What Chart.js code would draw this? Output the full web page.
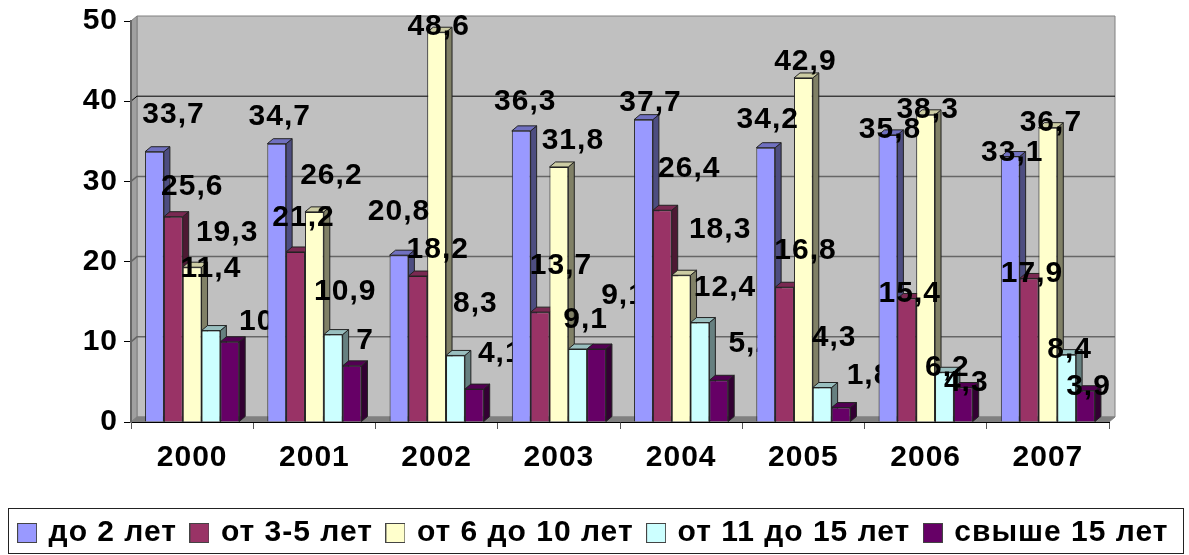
<!DOCTYPE html>
<html>
<head>
<meta charset="utf-8">
<style>
body { margin: 0; background: #fff; }
</style>
<script src="https://cdn.jsdelivr.net/npm/chart.js@4"></script>
</head>
<body>
<canvas id="chart" width="1189" height="555"></canvas>
<script>
const years = ['2000', '2001', '2002', '2003', '2004', '2005', '2006', '2007'];
const seriesNames = ['до 2 лет', 'от 3-5 лет', 'от 6 до 10 лет', 'от 11 до 15 лет', 'свыше 15 лет'];
const upTo2 = [33.7, 34.7, 20.8, 36.3, 37.7, 34.2, 35.8, 33.1];
const from3to5 = [25.6, 21.2, 18.2, 13.7, 26.4, 16.8, 15.4, 17.9];
const from6to10 = [19.3, 26.2, 48.6, 31.8, 18.3, 42.9, 38.3, 36.7];
const from11to15 = [11.4, 10.9, 8.3, 9.1, 12.4, 4.3, 6.2, 8.4];
const over15 = [10, 7, 4.1, 9.1, 5.2, 1.8, 4.3, 3.9];
const seriesValues = [upTo2, from3to5, from6to10, from11to15, over15];
const yTicks = [0, 10, 20, 30, 40, 50];

const frontColors = ['#9999FF', '#993366', '#FFFFCC', '#CCFFFF', '#660066'];
const topColors = ['#7070C0', '#7A2952', '#CCCCA3', '#99BFBF', '#520052'];
const sideColors = ['#4D4D80', '#4D1933', '#808066', '#668080', '#330033'];

// the data labels in the original sit by hand around the bars: [dx, dy] from bar centre / top
const labelOffsets = [
    [[19, -37], [19, -30], [35, -34], [0, -62], [27, -20]],
    [[3, -27], [8, -34], [17, -36], [12, -43], [13, -25]],
    [[0, -43], [20, -26], [2, -5], [20, -52], [26, -35]],
    [[4, -29], [21, -46], [14, -26], [8, -29], [27, -53]],
    [[7, -17], [27, -42], [39, -45], [25, -35], [32, -37]],
    [[2, -28], [21, -37], [2, -16], [12, -50], [28, -32]],
    [[2, -5], [3, -5], [2, -5], [3, -5], [3, -5]],
    [[2, -4], [3, -5], [3, -5], [3, -5], [3, -4]]
];

const depthX = 6;
const depthY = 5;
const fontFamily = '"Liberation Sans", Arial, sans-serif';

const canvas = document.getElementById('chart');

function fillPoly(ctx, points, fill, stroke) {
    ctx.beginPath();
    points.forEach((p, i) => i ? ctx.lineTo(p[0], p[1]) : ctx.moveTo(p[0], p[1]));
    ctx.closePath();
    ctx.fillStyle = fill;
    ctx.fill();
    if (stroke) {
        ctx.strokeStyle = stroke;
        ctx.lineWidth = 1;
        ctx.stroke();
    }
}

// legend swatch, given as a point style so the text can sit closer to it
function swatch(color) {
    const c = document.createElement('canvas');
    c.width = 20;
    c.height = 20;
    const g = c.getContext('2d');
    g.fillStyle = color;
    g.fillRect(0, 0, 20, 20);
    g.strokeStyle = '#444';
    g.strokeRect(0.5, 0.5, 19, 19);
    return c;
}

// the original text is a little wider than any installed face
const wideText = {
    id: 'wideText',
    beforeUpdate(chart) { chart.ctx.letterSpacing = '1px'; }
};

// walls, floor and gridlines behind the bars
const walls = {
    id: 'walls',
    beforeDraw(chart) {
        const { ctx, chartArea: a, scales } = chart;
        ctx.save();
        fillPoly(ctx, [[a.left + depthX, a.top - depthY], [a.right + depthX, a.top - depthY],
            [a.right + depthX, a.bottom - depthY], [a.left + depthX, a.bottom - depthY]], '#C0C0C0', '#808080');
        fillPoly(ctx, [[a.left, a.top], [a.left + depthX, a.top - depthY],
            [a.left + depthX, a.bottom - depthY], [a.left, a.bottom]], '#A0A0A0', '#808080');
        yTicks.slice(1, 5).forEach(v => {
            const y = scales.y.getPixelForValue(v);
            ctx.beginPath();
            ctx.moveTo(a.left, y);
            ctx.lineTo(a.left + depthX, y - depthY);
            ctx.lineTo(a.right + depthX, y - depthY);
            ctx.strokeStyle = v === 40 ? '#000' : '#666';
            ctx.lineWidth = v === 40 ? 1 : 1.5;
            ctx.stroke();
        });
        fillPoly(ctx, [[a.left, a.bottom], [a.left + depthX, a.bottom - depthY],
            [a.right + depthX, a.bottom - depthY], [a.right, a.bottom]], '#808080', '#808080');
        ctx.restore();
    }
};

// bars are painted year by year, so the next year's bars cover long labels like the original
const bars3d = {
    id: 'bars3d',
    beforeDatasetsDraw(chart) {
        const { ctx } = chart;
        ctx.save();
        years.forEach((year, g) => {
            seriesValues.forEach((values, s) => {
                const el = chart.getDatasetMeta(s).data[g];
                const left = el.x - el.width / 2;
                const right = el.x + el.width / 2;
                fillPoly(ctx, [[right, el.y], [right + depthX, el.y - depthY],
                    [right + depthX, el.base - depthY], [right, el.base]], sideColors[s], '#222');
                fillPoly(ctx, [[left, el.y], [left + depthX, el.y - depthY],
                    [right + depthX, el.y - depthY], [right, el.y]], topColors[s], '#222');
                el.draw(ctx);
            });
            seriesValues.forEach((values, s) => {
                const el = chart.getDatasetMeta(s).data[g];
                const off = labelOffsets[g][s];
                ctx.font = 'bold 30px ' + fontFamily;
                ctx.fillStyle = '#000';
                ctx.textAlign = 'center';
                ctx.textBaseline = 'middle';
                ctx.fillText(String(values[g]).replace('.', ','), el.x + off[0], el.y + off[1]);
            });
        });
        ctx.restore();
        return false;
    }
};

const legendFrame = {
    id: 'legendFrame',
    afterDraw(chart) {
        const { ctx } = chart;
        ctx.save();
        ctx.strokeStyle = '#222';
        ctx.lineWidth = 1;
        ctx.strokeRect(8.5, 508.5, 1175, 45);
        ctx.restore();
    }
};

new Chart(canvas, {
    type: 'bar',
    data: {
        labels: years,
        datasets: seriesNames.map((name, s) => ({
            label: name,
            data: seriesValues[s],
            backgroundColor: frontColors[s],
            borderColor: '#222',
            borderWidth: 1,
            pointStyle: swatch(frontColors[s])
        }))
    },
    options: {
        responsive: false,
        animation: false,
        categoryPercentage: 0.77,
        barPercentage: 1,
        layout: { padding: { top: 21, right: 0, bottom: -3, left: 0 } },
        plugins: {
            legend: {
                position: 'bottom',
                labels: {
                    usePointStyle: true,
                    pointStyleWidth: 13,
                    boxHeight: 20,
                    padding: 16,
                    color: '#000',
                    font: { family: fontFamily, size: 30, weight: 'bold' }
                }
            },
            tooltip: { enabled: false }
        },
        scales: {
            x: {
                afterFit(scale) {
                    scale.height = 80;
                    scale.paddingRight = 80;
                },
                grid: { drawOnChartArea: false, tickLength: 7, tickColor: '#555' },
                border: { color: '#000', width: 1 },
                ticks: {
                    color: '#000',
                    padding: 11,
                    maxRotation: 0,
                    autoSkip: false,
                    font: { family: fontFamily, size: 30, weight: 'bold' }
                }
            },
            y: {
                min: 0,
                max: 50,
                afterFit(scale) {
                    scale.width = 131;
                    scale.paddingTop = 0;
                    scale.paddingBottom = 0;
                },
                grid: { drawOnChartArea: false, tickLength: 7, tickColor: '#000' },
                border: { color: '#666', width: 2 },
                ticks: {
                    color: '#000',
                    padding: 6,
                    stepSize: 10,
                    font: { family: fontFamily, size: 30, weight: 'bold' }
                }
            }
        }
    },
    plugins: [wideText, walls, bars3d, legendFrame]
});
</script>
</body>
</html>
